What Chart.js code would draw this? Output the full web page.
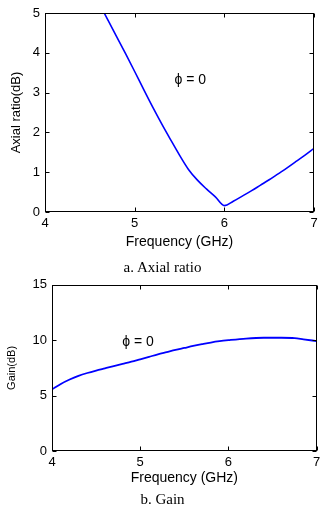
<!DOCTYPE html>
<html>
<head>
<meta charset="utf-8">
<script src="https://cdn.jsdelivr.net/npm/chart.js@4.4.0/dist/chart.umd.min.js"></script>
<style>
  html, body { margin: 0; padding: 0; background: #fff; }
  #wrap { position: relative; width: 331px; height: 507px; overflow: hidden; }
  .box { position: absolute; left: 0; width: 331px; }
  #boxA { top: 0; height: 255px; }
  #boxB { top: 272px; height: 235px; }
  .cap { position: absolute; left: 0; width: 331px; text-align: center; font-family: "Liberation Serif", "Times New Roman", serif; font-size: 15px; color: #000; line-height: 18px; }
</style>
</head>
<body>
<div id="wrap">
  <div class="box" id="boxA"><canvas id="chartA"></canvas></div>
  <div class="box" id="boxB"><canvas id="chartB"></canvas></div>
  <div class="cap" style="top:258px; left:-3px;">a. Axial ratio</div>
  <div class="cap" style="top:490px; left:-3px;">b. Gain</div>
</div>
<script>
// ---- data ----
const freqTicks = [4, 5, 6, 7];
const arTicks = [0, 1, 2, 3, 4, 5];
const gainTicks = [0, 5, 10, 15];

const arFreq   = [4.66, 4.8, 4.9, 5.0, 5.1, 5.2, 5.3, 5.4, 5.5, 5.6, 5.7, 5.8, 5.9, 6.0, 6.1, 6.2, 6.3, 6.4, 6.5, 6.6, 6.7, 6.8, 6.9, 7.0];
const arValues = [5.0, 4.40, 3.97, 3.53, 3.08, 2.64, 2.22, 1.82, 1.43, 1.07, 0.80, 0.58, 0.38, 0.16, 0.27, 0.40, 0.53, 0.67, 0.81, 0.96, 1.11, 1.27, 1.43, 1.60];

const gainFreq   = [4.0, 4.1, 4.2, 4.3, 4.4, 4.5, 4.6, 4.7, 4.8, 4.9, 5.0, 5.1, 5.2, 5.3, 5.4, 5.5, 5.6, 5.7, 5.8, 5.9, 6.0, 6.2, 6.4, 6.6, 6.75, 6.85, 7.0];
const gainValues = [5.55, 6.05, 6.45, 6.78, 7.04, 7.26, 7.46, 7.66, 7.86, 8.06, 8.28, 8.5, 8.72, 8.92, 9.12, 9.3, 9.48, 9.64, 9.79, 9.91, 10.0, 10.15, 10.22, 10.22, 10.19, 10.08, 9.92];

const labelA = { text: 'ϕ = 0', x: 5.62, y: 3.32 };
const labelB = { text: 'ϕ = 0', x: 4.975, y: 9.86 };

const SANS = '"Liberation Sans", Arial, sans-serif';

const framePlugin = {
  id: 'frame',
  afterDatasetsDraw(chart, args, opts) {
    const { ctx, chartArea, scales } = chart;
    const L = Math.round(chartArea.left) + 0.5, R = Math.round(chartArea.right) - 0.5;
    const T = Math.round(chartArea.top) + 0.5, B = Math.round(chartArea.bottom) - 0.5;
    const tl = 4;
    ctx.save();
    ctx.strokeStyle = '#000';
    ctx.lineWidth = 1;
    ctx.strokeRect(L, T, R - L, B - T);
    ctx.beginPath();
    scales.x.ticks.forEach(t => {
      const px = Math.round(scales.x.getPixelForValue(t.value)) + 0.5;
      ctx.moveTo(px, B); ctx.lineTo(px, B - tl);
      ctx.moveTo(px, T); ctx.lineTo(px, T + tl);
    });
    scales.y.ticks.forEach(t => {
      const py = Math.round(scales.y.getPixelForValue(t.value)) + 0.5;
      ctx.moveTo(L, py); ctx.lineTo(L + tl, py);
      ctx.moveTo(R, py); ctx.lineTo(R - tl, py);
    });
    ctx.stroke();
    if (opts && opts.text) {
      ctx.fillStyle = '#000';
      ctx.font = '14px ' + SANS;
      ctx.textAlign = 'center';
      ctx.textBaseline = 'middle';
      ctx.fillText(opts.text, scales.x.getPixelForValue(opts.x), scales.y.getPixelForValue(opts.y));
    }
    ctx.restore();
  }
};

function makeChart(id, xs, ys, yTicks, cfg) {
  const pts = xs.map((x, i) => ({ x: x, y: ys[i] }));
  return new Chart(document.getElementById(id), {
    type: 'line',
    data: { datasets: [{ data: pts, borderColor: '#0000ff', borderWidth: cfg.lw, pointRadius: 0, cubicInterpolationMode: 'monotone', fill: false }] },
    plugins: [framePlugin],
    options: {
      responsive: true,
      maintainAspectRatio: false,
      animation: false,
      layout: { padding: cfg.pad },
      plugins: { legend: { display: false }, tooltip: { enabled: false }, frame: cfg.label },
      scales: {
        x: {
          type: 'linear', min: freqTicks[0], max: freqTicks[freqTicks.length - 1],
          afterBuildTicks: s => { s.ticks = freqTicks.map(v => ({ value: v })); },
          afterFit: s => { s.height = cfg.xh; },
          grid: { display: false, drawTicks: false },
          border: { display: false },
          ticks: { color: '#000', font: { family: SANS, size: 13 }, padding: cfg.xpad, maxRotation: 0 },
          title: { display: true, text: 'Frequency (GHz)', color: '#000', font: { family: SANS, size: 14 }, padding: { top: cfg.xtp, bottom: cfg.xtp } }
        },
        y: {
          type: 'linear', min: yTicks[0], max: yTicks[yTicks.length - 1],
          afterBuildTicks: s => { s.ticks = yTicks.map(v => ({ value: v })); },
          afterFit: s => { s.width = cfg.yw; },
          grid: { display: false, drawTicks: false },
          border: { display: false },
          ticks: { color: '#000', font: { family: SANS, size: 13 }, padding: 5 },
          title: { display: true, text: cfg.ytitle, color: '#000', font: { family: SANS, size: cfg.ytsize }, padding: { top: cfg.ytp, bottom: 0 } }
        }
      }
    }
  });
}

makeChart('chartA', arFreq, arValues, arTicks, {
  lw: 1.6, pad: { top: 13, right: 17, left: 0, bottom: 0 }, xh: 43, yw: 45, xpad: 4, xtp: 4,
  ytitle: 'Axial ratio(dB)', ytsize: 13, ytp: 8.2, label: labelA
});
makeChart('chartB', gainFreq, gainValues, gainTicks, {
  lw: 1.8, pad: { top: 12.7, right: 14.3, left: 0, bottom: 0 }, xh: 56, yw: 52, xpad: 4, xtp: 20.5,
  ytitle: 'Gain(dB)', ytsize: 11, ytp: 5.1, label: labelB
});
</script>
</body>
</html>
